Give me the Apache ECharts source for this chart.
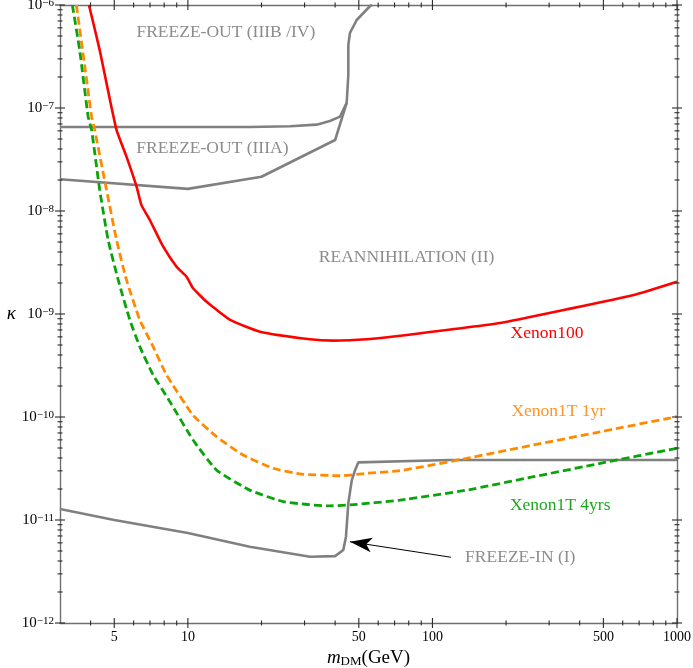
<!DOCTYPE html>
<html><head><meta charset="utf-8">
<script src="https://cdn.jsdelivr.net/npm/echarts@6/dist/echarts.min.js"></script>
<style>html,body{margin:0;padding:0;background:#fff}#c{width:693px;height:668px}</style>
</head><body><div id="c"></div>
<script>
// ---------- data ----------
const xenon100Mass  = [3.94, 4.36, 4.80, 5.11, 5.61, 6.17, 6.46, 6.99, 7.93, 8.99, 9.88, 10.5, 11.9, 14.9, 19.7, 31.6, 39.3, 53.9, 73.8, 189, 355, 665, 1000];
const xenon100Kappa = [1e-6, 3.65e-7, 1.2e-7, 6.11e-8, 3.37e-8, 1.72e-8, 1.14e-8, 8.18e-9, 4.5e-9, 2.88e-9, 2.3e-9, 1.78e-9, 1.32e-9, 8.75e-10, 6.73e-10, 5.68e-10, 5.51e-10, 5.68e-10, 6.15e-10, 8.18e-10, 1.11e-9, 1.53e-9, 2.06e-9];

const xenon1T1yrMass  = [3.50, 3.79, 4.04, 4.16, 4.65, 5.11, 5.61, 6.36, 7.21, 8.18, 10.5, 13.1, 16.8, 22.3, 28.7, 41.9, 53.9, 73.8, 138, 259, 486, 1000];
const xenon1T1yrKappa = [1e-6, 2.52e-7, 8.24e-8, 6.11e-8, 1.6e-8, 5.22e-9, 2.14e-9, 8.75e-10, 4.82e-10, 2.56e-10, 1.04e-10, 6.44e-11, 4.28e-11, 3.18e-11, 2.8e-11, 2.69e-11, 2.84e-11, 3.01e-11, 3.97e-11, 5.35e-11, 7.19e-11, 1.01e-10];

const xenon1T4yrMass  = [3.37, 3.61, 3.91, 4.04, 4.36, 4.72, 5.19, 5.79, 6.36, 7.21, 8.44, 10.5, 13.1, 17.9, 24.5, 37.0, 46.0, 73.8, 138, 259, 486, 1000];
const xenon1T4yrKappa = [1e-6, 3.65e-7, 8.24e-8, 6.11e-8, 1.6e-8, 5.22e-9, 2.14e-9, 8.75e-10, 4.82e-10, 2.56e-10, 1.41e-10, 5.98e-11, 3.05e-11, 1.95e-11, 1.51e-11, 1.37e-11, 1.4e-11, 1.56e-11, 1.95e-11, 2.63e-11, 3.55e-11, 4.97e-11];

const freezeOutBMass  = [3, 10, 17.9, 26.2, 33.6, 38.1, 41.9, 44.6, 45.3, 45.3, 46.0, 49.0, 55.6, 56.6];
const freezeOutBKappa = [6.55e-8, 6.55e-8, 6.55e-8, 6.64e-8, 6.89e-8, 7.48e-8, 8.24e-8, 1.12e-7, 2.09e-7, 4.09e-7, 5.35e-7, 7.15e-7, 9.78e-7, 1e-6];

const freezeOutAMass  = [3, 10, 20.0, 40.0, 44.6];
const freezeOutAKappa = [2.03e-8, 1.64e-8, 2.15e-8, 4.89e-8, 1.12e-7];

const freezeInMass  = [3, 5, 10, 17.9, 31.6, 40, 43.2, 44.3, 45.3, 46.8, 48.3, 49.8, 118, 1000];
const freezeInKappa = [1.28e-11, 1e-11, 7.48e-12, 5.51e-12, 4.4e-12, 4.46e-12, 5.12e-12, 6.89e-12, 1.46e-11, 2.44e-11, 3.06e-11, 3.63e-11, 3.83e-11, 3.83e-11];

// tick labels / tick positions
const xMajorTicks = [5, 10, 50, 100, 500, 1000];
const xMinorTicks = [4, 6, 7, 8, 9, 20, 30, 40, 60, 70, 80, 90, 200, 300, 400, 600, 700, 800, 900];
const yMajorExponents = [-12, -11, -10, -9, -8, -7, -6];
const yMinorMultipliers = [2, 3, 4, 5, 6, 7, 8, 9];

// ---------- chart ----------
const LOG = Math.log10;
const FONT = '"Liberation Serif", "Times New Roman", serif';
const pairs = (xs, ys) => xs.map((x, i) => [x, ys[i]]);
const X_MIN = 3, X_MAX = 1000, Y_MIN = 1e-12, Y_MAX = 1e-6;

const yMajorTicks = yMajorExponents.map(e => Math.pow(10, e));
const yMinorTicks = [];
yMajorExponents.slice(0, -1).forEach(e => yMinorMultipliers.forEach(m => yMinorTicks.push(m * Math.pow(10, e))));

const frameLine = { show: true, onZero: false, lineStyle: { color: '#6f6f6f', width: 1.4 } };

function decoX(position, labels) {
  return {
    type: 'value', gridIndex: 0, position: position, min: LOG(X_MIN), max: LOG(X_MAX),
    axisLine: frameLine,
    axisTick: { show: false },
    axisLabel: labels ? {
      show: true, customValues: xMajorTicks.map(LOG), margin: 7,
      fontFamily: FONT, fontSize: 14, color: '#000',
      formatter: v => String(Math.round(Math.pow(10, v)))
    } : { show: false },
    splitLine: { show: false }, minorTick: { show: false }
  };
}
function decoY(position, labels) {
  return {
    type: 'value', gridIndex: 0, position: position, min: LOG(Y_MIN), max: LOG(Y_MAX),
    axisLine: frameLine,
    axisTick: { show: false },
    axisLabel: labels ? {
      show: true, customValues: yMajorExponents, margin: 6,
      formatter: v => '{b|10}{s|' + (v < 0 ? '\u2212' : '') + Math.abs(Math.round(v)) + '}',
      rich: {
        b: { fontFamily: FONT, fontSize: 15, color: '#000', lineHeight: 15, padding: [6, 0, 0, 0], verticalAlign: 'bottom' },
        s: { fontFamily: FONT, fontSize: 11, color: '#000', lineHeight: 11, verticalAlign: 'top' }
      }
    } : { show: false },
    splitLine: { show: false }, minorTick: { show: false }
  };
}

const xAxisBottom = decoX('bottom', true);
xAxisBottom.name = '{i|m}{sub|DM}{n|(GeV)}';
xAxisBottom.nameLocation = 'middle';
xAxisBottom.nameGap = 24;
xAxisBottom.nameTextStyle = {
  rich: {
    i: { fontFamily: FONT, fontSize: 19, fontStyle: 'italic', color: '#000', lineHeight: 19, verticalAlign: 'bottom' },
    sub: { fontFamily: FONT, fontSize: 13, color: '#000', lineHeight: 13, verticalAlign: 'bottom' },
    n: { fontFamily: FONT, fontSize: 19, color: '#000', lineHeight: 19, verticalAlign: 'bottom' }
  }
};

const yAxisLeft = decoY('left', true);
yAxisLeft.name = '\u03ba';
yAxisLeft.nameLocation = 'middle';
yAxisLeft.nameRotate = 0;
yAxisLeft.nameGap = 40;
yAxisLeft.nameTextStyle = { fontFamily: FONT, fontSize: 19, fontStyle: 'italic', color: '#000' };

// tick marks: thin rectangles centred on the frame, placed through the log scales
function tickSeries(points, w, h) {
  return {
    type: 'scatter', xAxisIndex: 0, yAxisIndex: 0, silent: true, clip: true, z: 5,
    symbol: 'rect', symbolSize: [w, h],
    itemStyle: { color: '#2a2a2a', opacity: 1 },
    data: points
  };
}
const xTickPoints = (vals) => vals.flatMap(v => [[v, Y_MIN], [v, Y_MAX]]);
const yTickPoints = (vals) => vals.flatMap(v => [[X_MIN, v], [X_MAX, v]]);

const GRAY = '#808080';
const TEXT_GRAY = '#8c8c8c';
const annoLabel = (color) => ({ show: true, position: 'inside', formatter: '{b}', fontFamily: FONT, fontSize: 17.5, color: color });
const hiddenSymbol = { symbol: 'circle', symbolSize: 1, itemStyle: { color: 'rgba(0,0,0,0)' } };

const option = {
  animation: false,
  backgroundColor: '#fff',
  grid: { left: 60, top: 5, right: 16, bottom: 45, containLabel: false, outerBoundsMode: 'none' },
  xAxis: [
    { type: 'log', logBase: 10, min: X_MIN, max: X_MAX, show: false },
    xAxisBottom,
    decoX('top', false)
  ],
  yAxis: [
    { type: 'log', logBase: 10, min: Y_MIN, max: Y_MAX, show: false },
    yAxisLeft,
    decoY('right', false)
  ],
  series: [
    tickSeries(xTickPoints(xMajorTicks), 1.1, 10),
    tickSeries(xTickPoints(xMinorTicks), 1.1, 5),
    tickSeries(yTickPoints(yMajorTicks), 10, 1.1),
    tickSeries(yTickPoints(yMinorTicks), 5, 1.1),
    {
      name: 'FREEZE-OUT (IIIB /IV)', type: 'line', xAxisIndex: 0, yAxisIndex: 0, showSymbol: false, symbol: 'none',
      data: pairs(freezeOutBMass, freezeOutBKappa),
      lineStyle: { color: GRAY, width: 2.6 }, z: 2,
      markPoint: Object.assign({}, hiddenSymbol, { label: annoLabel(TEXT_GRAY), data: [
        { name: 'FREEZE-OUT (IIIB /IV)', coord: [14.3, 5.47e-7] },
        { name: 'FREEZE-OUT (IIIA)', coord: [12.6, 4.06e-8] },
        { name: 'REANNIHILATION (II)', coord: [78.4, 3.57e-9] }
      ] })
    },
    {
      name: 'FREEZE-OUT (IIIA)', type: 'line', xAxisIndex: 0, yAxisIndex: 0, showSymbol: false, symbol: 'none',
      data: pairs(freezeOutAMass, freezeOutAKappa),
      lineStyle: { color: GRAY, width: 2.6 }, z: 2
    },
    {
      name: 'FREEZE-IN (I)', type: 'line', xAxisIndex: 0, yAxisIndex: 0, showSymbol: false, symbol: 'none',
      data: pairs(freezeInMass, freezeInKappa),
      lineStyle: { color: GRAY, width: 2.6 }, z: 2,
      markPoint: Object.assign({}, hiddenSymbol, { label: annoLabel(TEXT_GRAY), data: [
        { name: 'FREEZE-IN (I)', coord: [228.6, 4.35e-12] }
      ] }),
      markLine: {
        silent: true, symbol: ['none', 'arrow'], symbolSize: [11, 22],
        lineStyle: { color: '#000', width: 1, type: 'solid' }, label: { show: false },
        data: [[{ coord: [119, 4.35e-12] }, { coord: [46.0, 6.15e-12] }]]
      }
    },
    {
      name: 'Xenon100', type: 'line', xAxisIndex: 0, yAxisIndex: 0, showSymbol: false, symbol: 'none',
      data: pairs(xenon100Mass, xenon100Kappa), smooth: 0.15,
      lineStyle: { color: '#ff0000', width: 2.6 }, z: 3,
      markPoint: Object.assign({}, hiddenSymbol, { label: annoLabel('#ff0000'), data: [
        { name: 'Xenon100', coord: [294, 6.5e-10] }
      ] })
    },
    {
      name: 'Xenon1T 1yr', type: 'line', xAxisIndex: 0, yAxisIndex: 0, showSymbol: false, symbol: 'none',
      data: pairs(xenon1T1yrMass, xenon1T1yrKappa), smooth: 0.15,
      lineStyle: { color: '#ff8a00', width: 2.8, type: [8, 4] }, z: 3,
      markPoint: Object.assign({}, hiddenSymbol, { label: annoLabel('#ff9426'), data: [
        { name: 'Xenon1T 1yr', coord: [327, 1.13e-10] }
      ] })
    },
    {
      name: 'Xenon1T 4yrs', type: 'line', xAxisIndex: 0, yAxisIndex: 0, showSymbol: false, symbol: 'none',
      data: pairs(xenon1T4yrMass, xenon1T4yrKappa), smooth: 0.15,
      lineStyle: { color: '#0aa30a', width: 2.8, type: [8, 4] }, z: 3,
      markPoint: Object.assign({}, hiddenSymbol, { label: annoLabel('#1ea81e'), data: [
        { name: 'Xenon1T 4yrs', coord: [333, 1.4e-11] }
      ] })
    }
  ]
};

const chart = echarts.init(document.getElementById('c'), null, { renderer: 'canvas' });
chart.setOption(option);
</script>
</body></html>
